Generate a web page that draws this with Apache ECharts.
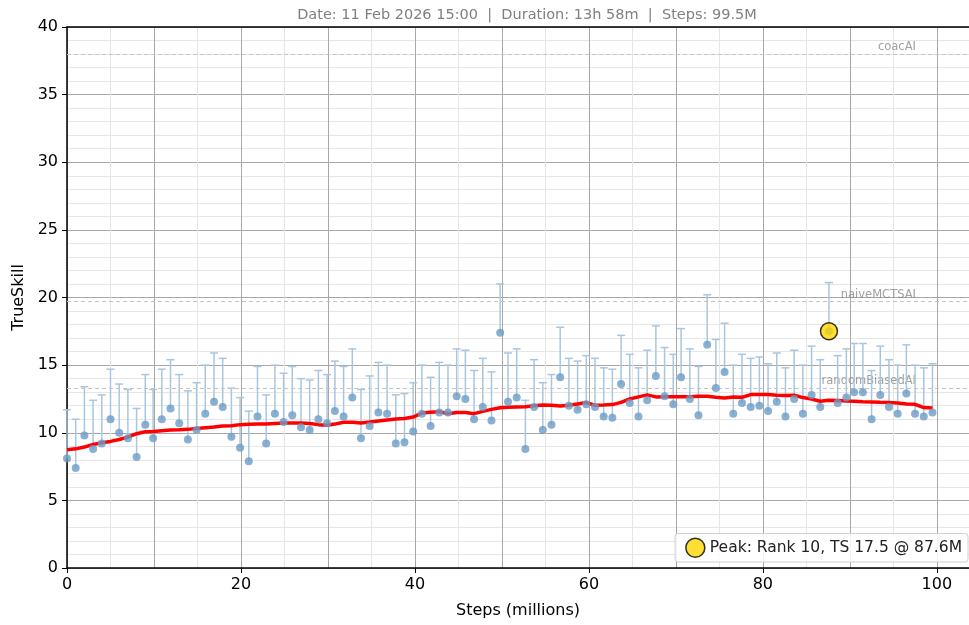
<!DOCTYPE html>
<html>
<head>
<meta charset="utf-8">
<script src="https://cdn.jsdelivr.net/npm/echarts@6/dist/echarts.min.js"></script>
<style>
html,body{margin:0;padding:0;background:#fff;}
#chart{width:969px;height:625px;}
</style>
</head>
<body>
<div id="chart"></div>
<script>
const titleText = 'Date: 11 Feb 2026 15:00  |  Duration: 13h 58m  |  Steps: 99.5M';
const xAxisName = 'Steps (millions)';
const yAxisName = 'TrueSkill';

const steps = [
  0.0, 1.0, 2.0, 3.0, 4.0, 5.0, 6.0, 7.0, 8.0, 9.0,
  9.9, 10.9, 11.9, 12.9, 13.9, 14.9, 15.9, 16.9, 17.9, 18.9,
  19.9, 20.9, 21.9, 22.9, 23.9, 24.9, 25.9, 26.9, 27.9, 28.9,
  29.9, 30.8, 31.8, 32.8, 33.8, 34.8, 35.8, 36.8, 37.8, 38.8,
  39.8, 40.8, 41.8, 42.8, 43.8, 44.8, 45.8, 46.8, 47.8, 48.8,
  49.8, 50.7, 51.7, 52.7, 53.7, 54.7, 55.7, 56.7, 57.7, 58.7,
  59.7, 60.7, 61.7, 62.7, 63.7, 64.7, 65.7, 66.7, 67.7, 68.7,
  69.7, 70.6, 71.6, 72.6, 73.6, 74.6, 75.6, 76.6, 77.6, 78.6,
  79.6, 80.6, 81.6, 82.6, 83.6, 84.6, 85.6, 86.6, 87.6, 88.6,
  89.6, 90.5, 91.5, 92.5, 93.5, 94.5, 95.5, 96.5, 97.5, 98.5,
  99.5
];

const trueSkill = [
  8.1, 7.4, 9.8, 8.8, 9.2, 11.0, 10.0, 9.6, 8.2, 10.6,
  9.6, 11.0, 11.8, 10.7, 9.5, 10.2, 11.4, 12.3, 11.9, 9.7,
  8.9, 7.9, 11.2, 9.2, 11.4, 10.8, 11.3, 10.4, 10.2, 11.0,
  10.7, 11.6, 11.2, 12.6, 9.6, 10.5, 11.5, 11.4, 9.2, 9.3,
  10.1, 11.4, 10.5, 11.5, 11.5, 12.7, 12.5, 11.0, 11.9, 10.9,
  17.4, 12.3, 12.6, 8.8, 11.9, 10.2, 10.6, 14.1, 12.0, 11.7,
  12.1, 11.9, 11.2, 11.1, 13.6, 12.2, 11.2, 12.4, 14.2, 12.7,
  12.1, 14.1, 12.5, 11.3, 16.5, 13.3, 14.5, 11.4, 12.2, 11.9,
  12.0, 11.6, 12.3, 11.2, 12.5, 11.4, 12.8, 11.9, 17.5, 12.2,
  12.6, 13.0, 13.0, 11.0, 12.8, 11.9, 11.4, 12.9, 11.4, 11.2,
  11.5
];

const upperBound = [
  11.7, 11.0, 13.4, 12.4, 12.8, 14.7, 13.6, 13.2, 11.8, 14.3,
  13.2, 14.7, 15.4, 14.3, 13.1, 13.7, 15.0, 15.9, 15.5, 13.3,
  12.6, 11.6, 14.9, 12.8, 15.0, 14.4, 14.9, 14.0, 13.9, 14.6,
  14.3, 15.3, 14.9, 16.2, 13.2, 14.2, 15.2, 15.0, 12.8, 12.9,
  13.7, 15.0, 14.1, 15.2, 15.0, 16.2, 16.1, 14.6, 15.5, 14.5,
  21.0, 15.9, 16.2, 12.4, 15.4, 13.7, 14.3, 17.8, 15.5, 15.3,
  15.7, 15.5, 14.8, 14.7, 17.2, 15.8, 14.8, 16.1, 17.9, 16.3,
  15.8, 17.7, 16.2, 14.9, 20.2, 16.9, 18.1, 15.0, 15.8, 15.5,
  15.6, 15.1, 15.9, 14.8, 16.1, 15.0, 16.4, 15.4, 21.1, 15.7,
  16.2, 16.6, 16.6, 14.6, 16.4, 15.4, 15.0, 16.5, 15.0, 14.8,
  15.1
];

const rollingMean = [
  8.74, 8.81, 8.94, 9.13, 9.26, 9.36, 9.50, 9.68, 9.93, 10.07,
  10.10, 10.15, 10.20, 10.22, 10.25, 10.32, 10.37, 10.42, 10.50, 10.52,
  10.60, 10.62, 10.64, 10.64, 10.69, 10.72, 10.72, 10.72, 10.69, 10.60,
  10.55, 10.64, 10.77, 10.77, 10.72, 10.79, 10.87, 10.94, 11.01, 11.06,
  11.16, 11.46, 11.51, 11.56, 11.41, 11.49, 11.49, 11.41, 11.58, 11.73,
  11.85, 11.88, 11.91, 11.93, 12.00, 12.05, 12.03, 11.98, 12.03, 12.13,
  12.23, 12.03, 12.05, 12.08, 12.25, 12.50, 12.65, 12.80, 12.65, 12.67,
  12.67, 12.67, 12.67, 12.70, 12.70, 12.62, 12.57, 12.65, 12.62, 12.82,
  12.82, 12.82, 12.77, 12.75, 12.77, 12.60, 12.50, 12.33, 12.40, 12.38,
  12.35, 12.33, 12.30, 12.28, 12.25, 12.23, 12.20, 12.13, 12.10, 11.86,
  11.83
];

const refNames = ['coacAI', 'naiveMCTSAI', 'randomBiasedAI'];
const refValues = [38.0, 19.7, 13.3];

const peakLabel = 'Peak: Rank 10, TS 17.5 @ 87.6M';
const peakStep = [87.6];
const peakValue = [17.5];

const FONT = 'DejaVu Sans';
const X_MAX = 103.7;
const chart = echarts.init(document.getElementById('chart'), null, {renderer: 'canvas'});

const pointData = steps.map((s, i) => [s, trueSkill[i]]);
const errData = steps.map((s, i) => [s, trueSkill[i], upperBound[i]]);
const meanData = steps.map((s, i) => [s, rollingMean[i]]);
const refLabelData = refNames.map((n, i) => [97.6, refValues[i], n]);
const peakData = peakStep.map((s, i) => [s, peakValue[i]]);

const option = {
  animation: false,
  backgroundColor: '#fff',
  textStyle: {fontFamily: FONT},
  title: {
    text: titleText,
    left: 522,
    textAlign: 'center',
    top: 3,
    textStyle: {fontFamily: FONT, fontSize: 14.5, fontWeight: 'normal', color: '#808080'}
  },
  legend: {
    data: [peakLabel],
    right: 1,
    bottom: 63,
    orient: 'horizontal',
    icon: 'circle',
    itemWidth: 19,
    itemHeight: 19,
    itemGap: 5,
    padding: [4, 6, 4, 10],
    backgroundColor: 'rgba(255,255,255,0.85)',
    borderColor: '#d0d0d0',
    borderWidth: 1,
    borderRadius: 3,
    itemStyle: {color: '#FFD700', borderColor: '#000', borderWidth: 1.5},
    textStyle: {fontFamily: FONT, fontSize: 15.5, color: '#222'}
  },
  grid: {
    left: 67, right: 0, top: 27, bottom: 57,
    show: false
  },
  xAxis: [{
    type: 'value',
    position: 'bottom',
    min: 0,
    max: X_MAX,
    interval: 10,
    axisLine: {show: true, onZero: false, lineStyle: {color: '#000', width: 1.5}},
    axisTick: {show: false},
    axisLabel: {show: false},
    splitLine: {show: true, lineStyle: {color: '#a8a8a8', width: 1}},
    minorTick: {show: true, splitNumber: 2, length: 0},
    minorSplitLine: {show: true, lineStyle: {color: '#e6e6e6', width: 1}}
  }, {
    type: 'value',
    position: 'top',
    min: 0,
    max: X_MAX,
    axisLine: {show: true, onZero: false, lineStyle: {color: '#000', width: 1.5}},
    axisTick: {show: false},
    axisLabel: {show: false},
    splitLine: {show: false}
  }, {
    type: 'value',
    position: 'bottom',
    min: 0,
    max: X_MAX,
    interval: 20,
    name: xAxisName,
    nameLocation: 'middle',
    nameGap: 35,
    nameTextStyle: {fontFamily: FONT, fontSize: 16, color: '#000'},
    axisLine: {show: false, onZero: false},
    axisTick: {show: true, length: 5, lineStyle: {color: '#000'}},
    axisLabel: {fontFamily: FONT, fontSize: 16, color: '#000', margin: 9, showMaxLabel: false},
    splitLine: {show: false},
    minorTick: {show: false},
    minorSplitLine: {show: false}
  }],
  yAxis: {
    type: 'value',
    min: 0,
    max: 40,
    interval: 5,
    name: yAxisName,
    nameLocation: 'middle',
    nameGap: 40,
    nameTextStyle: {fontFamily: FONT, fontSize: 16, color: '#000'},
    axisLine: {show: true, onZero: false, lineStyle: {color: '#000', width: 1.5}},
    axisTick: {show: true, length: 5, lineStyle: {color: '#000'}},
    axisLabel: {fontFamily: FONT, fontSize: 16, color: '#000', margin: 9},
    splitLine: {show: true, lineStyle: {color: '#a8a8a8', width: 1}},
    minorTick: {show: true, splitNumber: 5, length: 0},
    minorSplitLine: {show: true, lineStyle: {color: '#e6e6e6', width: 1}}
  },
  series: [
    {
      name: 'refs',
      type: 'line',
      data: [],
      silent: true,
      markLine: {
        silent: true,
        symbol: 'none',
        label: {show: false},
        lineStyle: {color: '#c4c4c4', type: [4, 3], width: 1},
        data: refValues.map(v => ({yAxis: v}))
      },
      z: 1
    },
    {
      name: 'refLabels',
      type: 'scatter',
      data: refLabelData,
      symbolSize: 0,
      silent: true,
      label: {
        show: true,
        position: 'left',
        distance: 0,
        offset: [0, -7],
        formatter: p => p.data[2],
        fontFamily: FONT,
        fontSize: 11.5,
        color: '#888'
      },
      z: 2
    },
    {
      name: 'errors',
      type: 'custom',
      data: errData,
      encode: {x: 0, y: [1, 2]},
      silent: true,
      renderItem: function (params, api) {
        const x = api.value(0);
        const p0 = api.coord([x, api.value(1)]);
        const p1 = api.coord([x, api.value(2)]);
        const style = {stroke: '#a9c6e0', lineWidth: 1.5};
        return {
          type: 'group',
          children: [
            {type: 'line', shape: {x1: p0[0], y1: p0[1], x2: p1[0], y2: p1[1]}, style: style},
            {type: 'line', shape: {x1: p1[0] - 4, y1: p1[1], x2: p1[0] + 4, y2: p1[1]}, style: style}
          ]
        };
      },
      z: 3
    },
    {
      name: 'mean',
      type: 'line',
      data: meanData,
      showSymbol: false,
      symbol: 'none',
      lineStyle: {color: '#ff0000', width: 3.5},
      z: 4
    },
    {
      name: 'points',
      type: 'scatter',
      data: pointData,
      symbolSize: 8,
      itemStyle: {color: '#6c9bc6'},
      z: 5
    },
    {
      name: peakLabel,
      type: 'scatter',
      data: peakData,
      symbol: 'circle',
      symbolSize: 17,
      itemStyle: {color: '#FFD700', borderColor: '#000', borderWidth: 1.5},
      z: 6
    }
  ]
};
chart.setOption(option);
</script>
</body>
</html>
